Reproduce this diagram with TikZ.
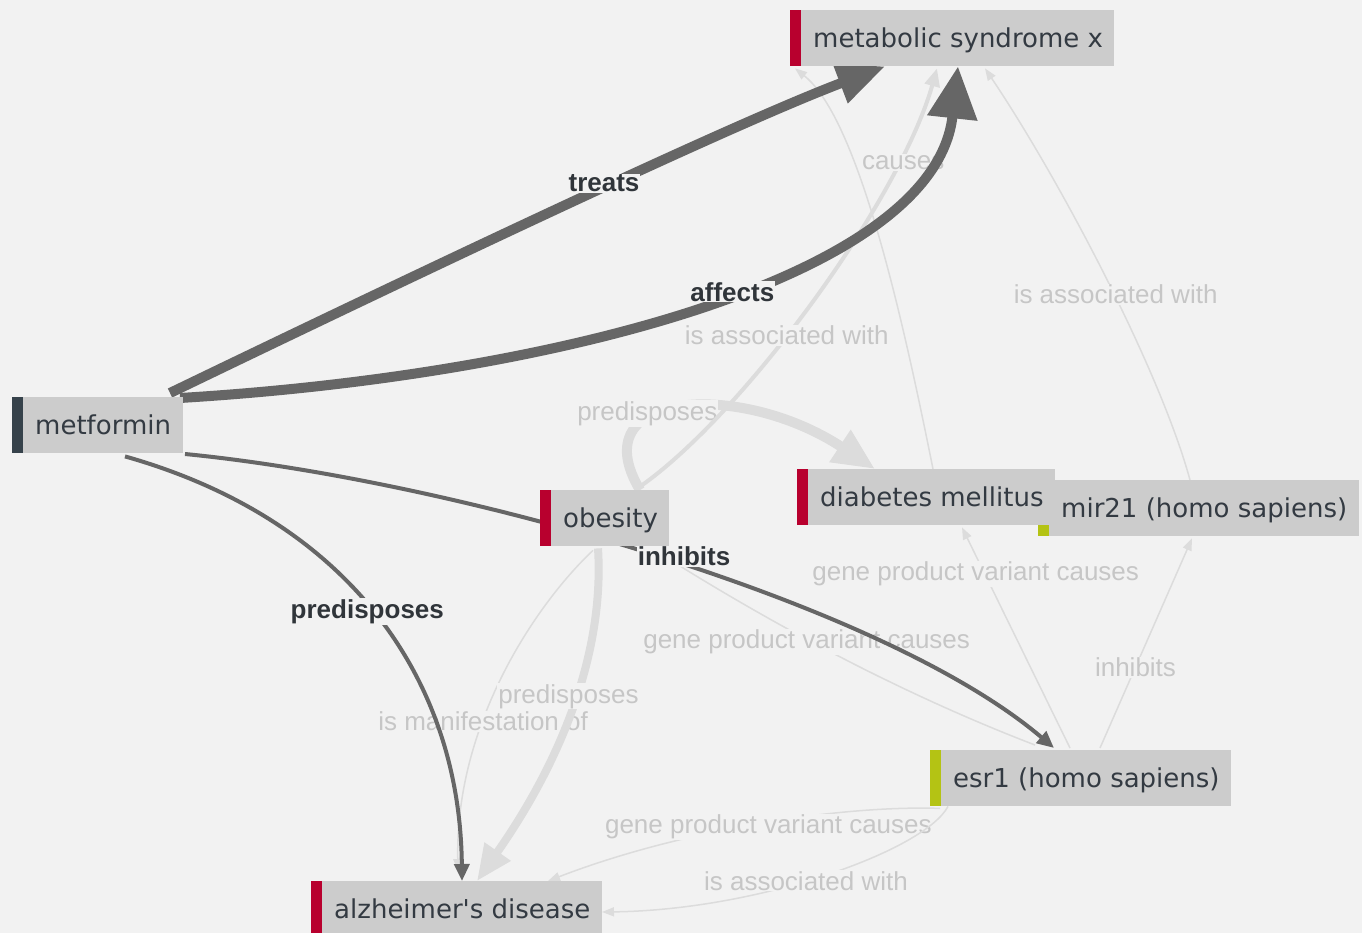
\documentclass[tikz,border=0pt]{standalone}
\usepackage{fontspec}
\newfontfamily\entfont{DejaVu Sans}
\newfontfamily\lblfont{Liberation Sans}
\usetikzlibrary{arrows.meta,calc}
\definecolor{pagebg}{HTML}{F2F2F2}
\definecolor{boxfill}{HTML}{CCCCCC}
\definecolor{enttext}{HTML}{333A42}
\definecolor{barred}{HTML}{B8002E}
\definecolor{bargreen}{HTML}{B4C314}
\definecolor{bardark}{HTML}{36424B}
\definecolor{darkedge}{HTML}{666666}
\definecolor{lightedge}{HTML}{DCDCDC}
\definecolor{lighttext}{HTML}{C6C6C6}
\definecolor{darktext}{HTML}{30353A}
\pgfdeclarelayer{bglayer}
\pgfdeclarelayer{lightlayer}
\pgfdeclarelayer{darklayer}
\pgfsetlayers{bglayer,lightlayer,darklayer,main}
\begin{document}
\begin{tikzpicture}[x=1pt,y=-1pt,
  ent/.style={anchor=north west, fill=boxfill, minimum height=56pt, inner ysep=0pt, inner xsep=11.5pt,
    text height=19pt, text depth=0pt, font=\entfont\fontsize{26}{30}\selectfont, text=enttext,
    execute at begin node={\hspace*{11.5pt}},
    path picture={\fill[#1] (path picture bounding box.north west) rectangle ($(path picture bounding box.south west)+(11,0)$);}},
  lbl/.style={font=\lblfont\fontsize{26}{30}\selectfont, text=lighttext, fill=pagebg, inner sep=1pt},
  dlbl/.style={font=\lblfont\bfseries\fontsize{26}{30}\selectfont, text=darktext, fill=pagebg, inner sep=1pt},
  thinL/.style={draw=lightedge, line width=1.5pt, -{Triangle[length=12pt,width=9pt]}},
  medL/.style={draw=lightedge, line width=4pt, -{Triangle[length=18pt,width=15pt]}},
  thickL/.style={draw=lightedge, line width=#1, -{Triangle[length=42pt,width=36pt]}},
  darkthin/.style={draw=darkedge, line width=4pt, -{Triangle[length=17pt,width=15pt]}},
  darkthick/.style={draw=darkedge, line width=10pt}
]
\begin{pgfonlayer}{bglayer}
  \fill[pagebg] (0,0) rectangle (1362,933);
\end{pgfonlayer}
\useasboundingbox (0,0) rectangle (1362,933);

% entities
\node[ent=barred] (ms) at (790,10) {metabolic syndrome x};
\node[ent=bardark] (met) at (12,397) {metformin};
\node[ent=barred] (ob) at (540,490) {obesity};
\node[ent=bargreen] (mir) at (1038,480) {mir21 (homo sapiens)};
\node[ent=barred] (dm) at (797,469) {diabetes mellitus};
\node[ent=bargreen] (esr) at (930,750) {esr1 (homo sapiens)};
\node[ent=barred] (alz) at (311,881) {alzheimer's disease};

% light edges
\begin{pgfonlayer}{lightlayer}
  \draw[thickL=10pt] ($(ob.north west)+(100,0)$) .. controls (580,390) and (740,380) .. ($(dm.north west)+(78,0)$)
    node[lbl, pos=0.37, yshift=3pt, xshift=-4pt] (l1) {predisposes};
  \draw[medL] ($(ob.north west)+(95,0)$) .. controls (740,420) and (900,200) .. ($(ms.south west)+(147,2)$)
    node[lbl, pos=0.43] (l2) {is associated with};
  \draw[thinL] ($(dm.north west)+(136,0)$) .. controls (905,330) and (860,120) .. ($(ms.south west)+(5,2)$)
    node[lbl, pos=0.7, xshift=55pt, yshift=-11pt] (l3) {causes};
  \draw[thinL] ($(mir.north west)+(152,0)$) .. controls (1160,370) and (1060,180) .. ($(ms.south west)+(195,2)$)
    node[lbl, pos=0.45, yshift=3pt] (l4) {is associated with};
  \draw[thinL] ($(esr.north west)+(140,-2)$) -- ($(dm.south west)+(165,2)$)
    node[lbl, pos=0.79, xshift=-9pt] (l5) {gene product variant causes};
  \draw[thinL] ($(esr.north west)+(170,-2)$) -- ($(mir.south west)+(154,2)$)
    node[lbl, pos=0.386] (l6) {inhibits};
  \draw[thinL] ($(esr.north west)+(105,-5)$) .. controls (915,699) and (788,634) .. ($(ob.south west)+(115,4)$)
    node[lbl, pos=0.6, xshift=-5pt] (l7) {gene product variant causes};
  \draw[thinL] ($(esr.south west)+(10,2)$) .. controls (840,805) and (680,830) .. ($(alz.north west)+(237,0)$)
    node[lbl, pos=0.47, yshift=-5pt] (l8) {gene product variant causes};
  \draw[thinL] ($(esr.south west)+(18,0)$) .. controls (925,850) and (760,910) .. ($(alz.north west)+(291,31)$)
    node[lbl, pos=0.55] (l9) {is associated with};
  \draw[thinL] ($(ob.south west)+(53,4)$) .. controls (540,600) and (455,720) .. ($(alz.north west)+(147,-10)$)
    node[lbl, pos=0.62, yshift=-7pt, xshift=-3pt] (l10) {is manifestation of};
  \draw[draw=lightedge, line width=8pt, -{Triangle[length=36pt,width=30pt]}] ($(ob.south west)+(58,2)$) .. controls (605,660) and (555,770) .. ($(alz.north west)+(166,0)$)
    node[lbl, pos=0.45, xshift=-7pt, yshift=2pt] (l11) {predisposes};
\end{pgfonlayer}

% dark edges
\begin{pgfonlayer}{darklayer}
  \draw[darkthick, -{Triangle[length=48pt,width=40pt]}] ($(met.north west)+(158,-4)$) .. controls (510,229) and (749,118) .. ($(ms.south west)+(95,0)$)
    node[dlbl, pos=0.5, yshift=4pt] (d1) {treats};
  \draw[darkthick, -{Triangle[length=52pt,width=48pt]}] ($(met.north west)+(168,1)$) .. controls (560,375) and (935,275) .. ($(ms.south west)+(168,0)$)
    node[dlbl, pos=0.53, xshift=4pt] (d2) {affects};
  \draw[darkthin] ($(met.north west)+(173,57)$) .. controls (450,480) and (880,600) .. ($(esr.north west)+(124,-2)$)
    node[dlbl, pos=0.52, xshift=11pt, yshift=5pt] (d3) {inhibits};
  \draw[darkthin] ($(met.south west)+(113,3)$) .. controls (350,520) and (460,680) .. ($(alz.north west)+(151,0)$)
    node[dlbl, pos=0.48, xshift=-3pt, yshift=-3pt] (d4) {predisposes};
\end{pgfonlayer}
\end{tikzpicture}
\end{document}
